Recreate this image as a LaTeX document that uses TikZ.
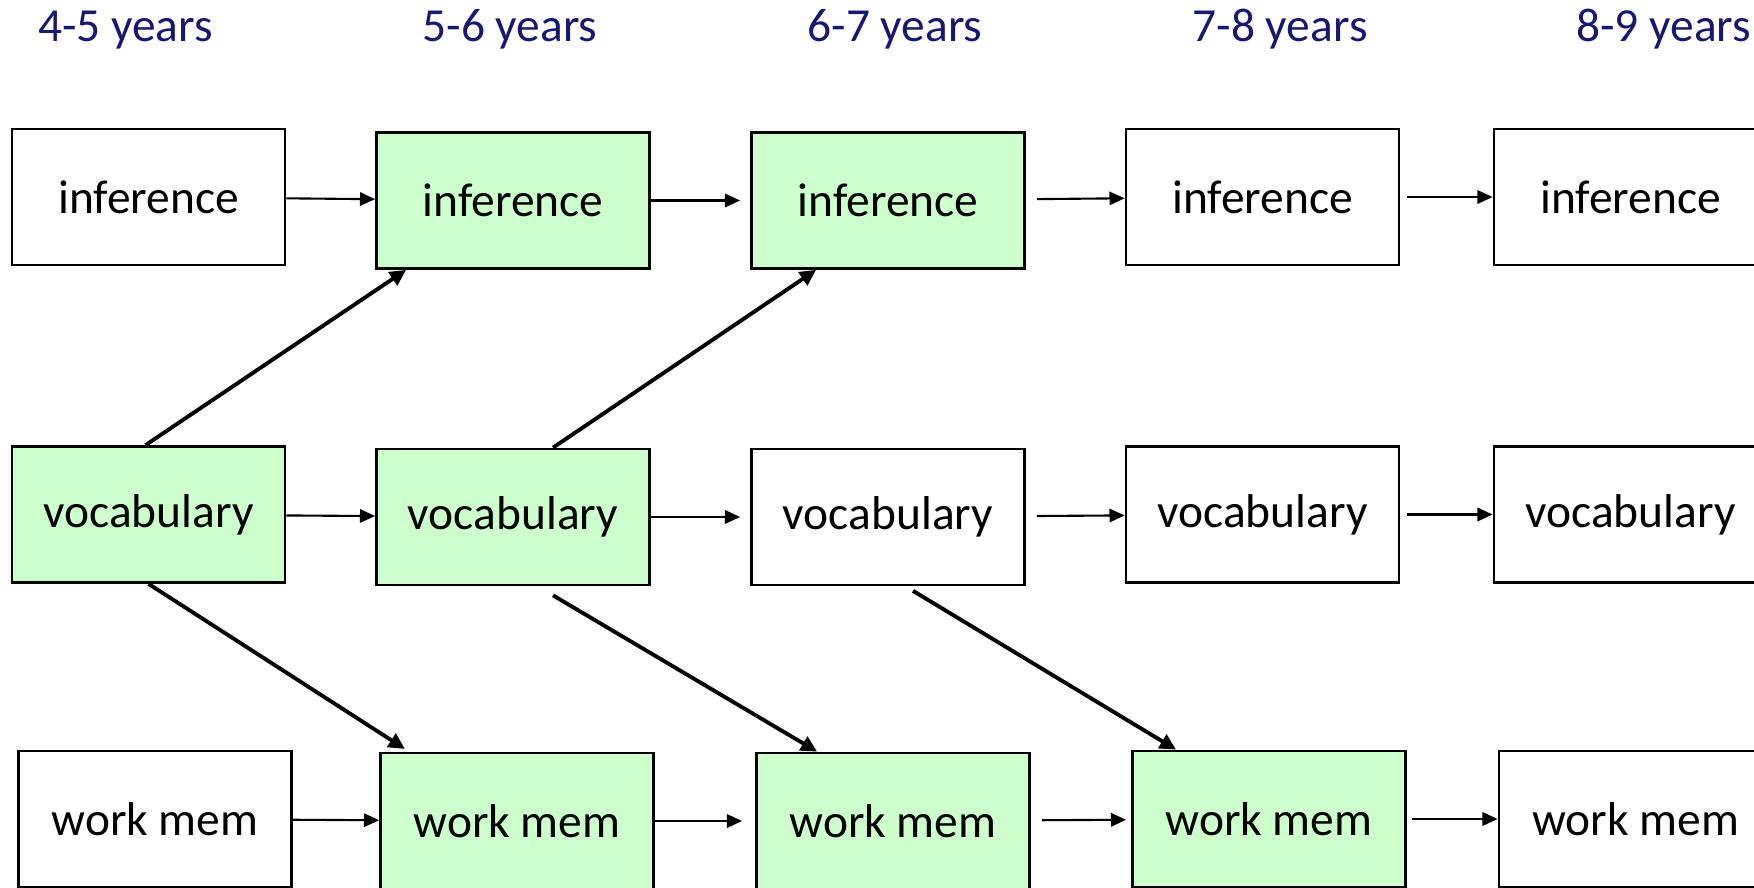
\documentclass[tikz,border=0pt]{standalone}
\usepackage{fontspec}
\setmainfont{Carlito}
\usetikzlibrary{arrows.meta}
\definecolor{yearblue}{RGB}{24,24,112}
\definecolor{reached}{RGB}{204,255,204}

\begin{document}
\begin{tikzpicture}[x=0.01cm,y=-0.01cm,
    every node/.style={font=\fontsize{13.5}{16}\selectfont},
    box/.style={draw,line width=0.75pt,minimum width=2.73cm,minimum height=1.36cm,inner sep=0pt},
    hit/.style={box,fill=reached},
    year/.style={text=yearblue,anchor=base},
    link/.style={-{Triangle[length=4.3pt,width=3.8pt]},line width=0.6pt},
    lead/.style={-{Triangle[length=4.6pt,width=4.4pt]},line width=1.1pt},
]
\useasboundingbox (0,0) rectangle (1754,888);

% ages
\node[year] (y1) at (125.5,42) {4-5 years};
\node[year] (y2) at (510,42) {5-6 years};
\node[year] (y3) at (895,42) {6-7 years};
\node[year] (y4) at (1280,42) {7-8 years};
\node[year] (y5) at (1663.5,42) {8-9 years};

% inference row
\node[box] (inf1) at (148.5,197) {inference};
\node[hit] (inf2) at (513,200.5) {inference};
\node[hit] (inf3) at (888,200.5) {inference};
\node[box] (inf4) at (1262.5,197) {inference};
\node[box] (inf5) at (1630.5,197) {inference};

% vocabulary row
\node[hit] (voc1) at (148.5,514.5) {vocabulary};
\node[hit] (voc2) at (513,517) {vocabulary};
\node[box] (voc3) at (888,517) {vocabulary};
\node[box] (voc4) at (1262.5,514.5) {vocabulary};
\node[box] (voc5) at (1630.5,514.5) {vocabulary};

% working memory row
\node[box] (wm1) at (155,819) {work mem};
\node[hit] (wm2) at (517,821) {work mem};
\node[hit] (wm3) at (893,821) {work mem};
\node[hit] (wm4) at (1269,819) {work mem};
\node[box] (wm5) at (1635.5,819) {work mem};

\path[link]
(inf1) edge (inf2)
(inf2) edge[shorten >=0.1cm] (inf3)
(inf3) edge[shorten <=0.11cm] (inf4)
(inf4) edge[shorten <=0.07cm] (inf5)
(voc1) edge (voc2)
(voc2) edge[shorten >=0.1cm] (voc3)
(voc3) edge[shorten <=0.11cm] (voc4)
(voc4) edge[shorten <=0.07cm] (voc5)
(wm1) edge (wm2)
(wm2) edge[shorten >=0.13cm] (wm3)
(wm3) edge[shorten <=0.11cm,shorten >=0.05cm] (wm4)
(wm4) edge[shorten <=0.055cm] (wm5)
;
\path[lead]
([xshift=-0.03cm]voc1.north) edge ([xshift=0.31cm]inf2.south west)
([xshift=0.4cm]voc2.north) edge ([xshift=0.66cm]inf3.south west)
(voc1.south) edge[shorten >=0.05cm] ([xshift=0.3cm]wm2.north west)
([xshift=0.4cm,yshift=-0.09cm]voc2.south) edge ([xshift=0.62cm]wm3.north west)
([xshift=0.25cm,yshift=-0.045cm]voc3.south) edge ([xshift=0.45cm]wm4.north west)
;
\end{tikzpicture}
\end{document}
